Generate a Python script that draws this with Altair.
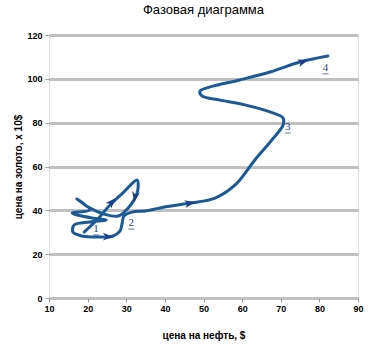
import altair as alt
import pandas as pd

# Trajectory (oil price $, gold price x10$) in drawing order
oil = [19.1, 22.4, 25.8, 29.4, 32.8, 33.0, 32.0, 30.5, 27.9, 24.2, 20.1, 17.2, 20.6, 16.0,
       21.1, 24.8, 20.6, 16.5, 16.2, 18.5, 23.2, 26.6, 28.4, 28.9, 29.4, 31.5, 34.9, 38.7,
       46.5, 53.0, 58.2, 63.3, 67.7, 70.6, 70.6, 67.2, 60.7, 54.3, 49.6, 49.1, 51.7, 59.4,
       67.2, 75.0, 82.2]
gold = [30.1, 35.6, 42.4, 48.4, 53.8, 49.3, 44.7, 41.1, 37.4, 38.3, 41.5, 45.2, 40.2, 38.8,
        36.5, 35.6, 34.7, 33.3, 30.1, 28.3, 27.8, 28.3, 30.6, 33.8, 37.4, 39.2, 39.7, 41.1,
        43.3, 45.6, 51.6, 63.0, 72.1, 78.9, 82.1, 84.9, 88.1, 90.3, 92.2, 94.4, 96.3, 99.5,
        103.1, 107.7, 110.4]

# Arrow heads along the path
arrow_x = [25.3, 26.3, 32.3, 46.5, 75.8]
arrow_y = [28.0, 43.8, 46.1, 43.3, 107.9]
arrow_angle = [0, 314, 100, 350, 342]

# Point labels
label_text = ["1", "2", "3", "4"]
label_x = [22.2, 31.3, 71.8, 81.6]
label_y = [31.5, 34.2, 78.0, 105.0]

# Axis ticks
x_ticks = [10, 20, 30, 40, 50, 60, 70, 80, 90]
y_ticks = [0, 20, 40, 60, 80, 100, 120]

path = pd.DataFrame({"oil": oil, "gold": gold, "order": list(range(len(oil)))})
arrows = pd.DataFrame({"oil": arrow_x, "gold": arrow_y, "angle": arrow_angle})
labels = pd.DataFrame({"oil": label_x, "gold": label_y, "text": label_text})

font = "Liberation Sans"
xscale = alt.Scale(domain=[10, 90], nice=False, zero=False)
yscale = alt.Scale(domain=[0, 120], nice=False)

x_enc = alt.X("oil:Q", scale=xscale,
              axis=alt.Axis(values=x_ticks, title="цена на нефть, $",
                            grid=False, domain=False, tickColor="#999999", tickSize=4,
                            labelOverlap=False, labelFlush=False, labelBound=False,
                            labelFont=font, labelFontWeight="bold", labelFontSize=9,
                            labelColor="#000000", labelPadding=2,
                            titleFont=font, titleFontWeight="bold", titleFontSize=10,
                            titleColor="#000000", titlePadding=17))
y_enc = alt.Y("gold:Q", scale=yscale,
              axis=alt.Axis(values=y_ticks, title="цена на золото, х 10$",
                            grid=True, gridColor="#c0c0c0", gridWidth=3, domain=False,
                            tickColor="#999999", tickSize=4, labelOverlap=False,
                            labelFont=font, labelFontWeight="bold", labelFontSize=9,
                            labelColor="#000000", labelPadding=3,
                            titleFont=font, titleFontWeight="bold", titleFontSize=10,
                            titleColor="#000000", titlePadding=3))

line = alt.Chart(path).mark_line(color="#1c5a96", strokeWidth=3, interpolate="catmull-rom",
                                 strokeCap="round", strokeJoin="round").encode(
    x=x_enc, y=y_enc, order="order:Q")

heads = alt.Chart(arrows).mark_point(
    shape="M-1,-0.75L1,0L-1,0.75L-0.45,0Z", filled=True, color="#1a3f8c",
    size=110, opacity=1).encode(
    x=x_enc, y=y_enc, angle=alt.Angle("angle:Q", scale=None))

text = alt.Chart(labels).mark_text(font="Liberation Serif", fontSize=11, color="#1c3f7a",
                                   align="center", baseline="middle").encode(
    x=x_enc, y=y_enc, text="text:N")

under = alt.Chart(labels).mark_tick(orient="horizontal", size=6, thickness=1,
                                    color="#1c3f7a", yOffset=6).encode(x=x_enc, y=y_enc)

chart = alt.layer(line, heads, text, under).properties(
    width=309, height=263,
    title=alt.TitleParams("Фазовая диаграмма", font=font, fontSize=13, fontWeight="normal",
                          color="#000000", anchor="middle", offset=14),
    autosize="none",
    padding={"left": 49, "top": 35, "right": 15, "bottom": 54},
).configure_view(stroke="#b8b8b8", strokeWidth=3).configure_axis(
    labelOverlap=False).configure(background="white")

chart.save("out.html", embed_options={"renderer": "svg", "actions": False})
